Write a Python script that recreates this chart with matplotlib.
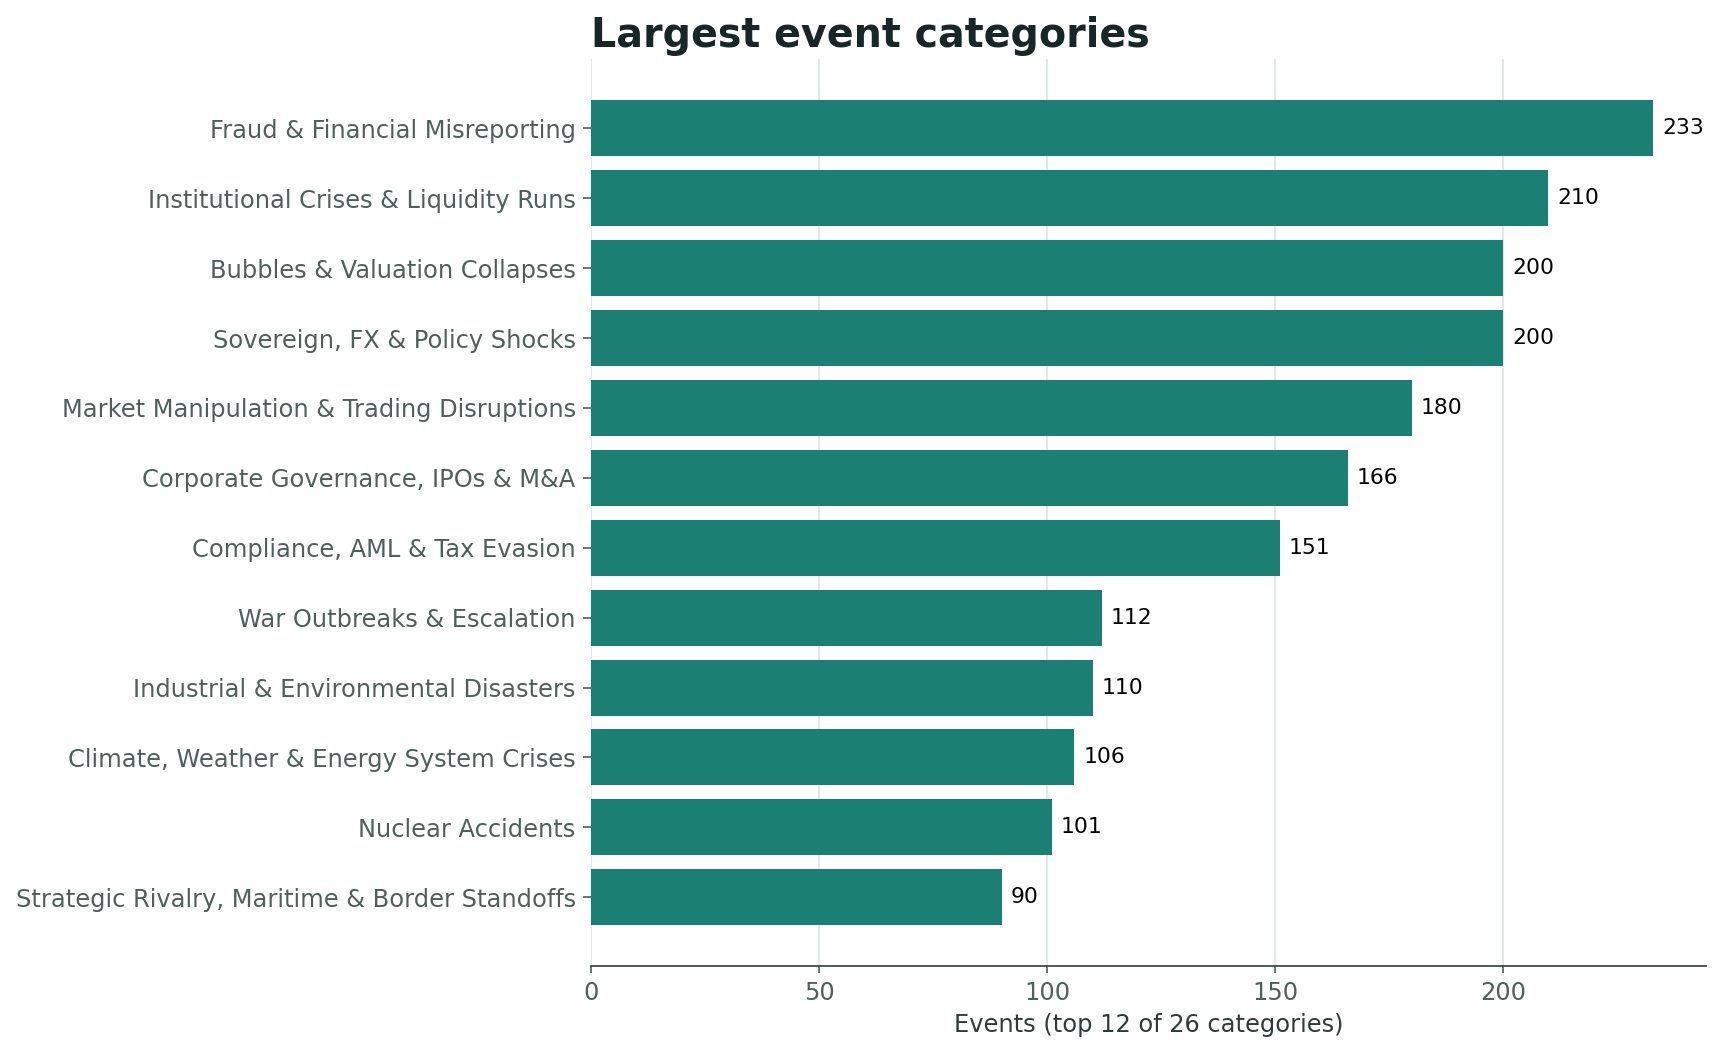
import numpy as np
import matplotlib
matplotlib.use("Agg")
import matplotlib.pyplot as plt

categories = [
    "Fraud & Financial Misreporting",
    "Institutional Crises & Liquidity Runs",
    "Bubbles & Valuation Collapses",
    "Sovereign, FX & Policy Shocks",
    "Market Manipulation & Trading Disruptions",
    "Corporate Governance, IPOs & M&A",
    "Compliance, AML & Tax Evasion",
    "War Outbreaks & Escalation",
    "Industrial & Environmental Disasters",
    "Climate, Weather & Energy System Crises",
    "Nuclear Accidents",
    "Strategic Rivalry, Maritime & Border Standoffs",
]
counts = [233, 210, 200, 200, 180, 166, 151, 112, 110, 106, 101, 90]

bar_color = "#1b7f73"
text_dark = "#172626"
tick_gray = "#4f5f5c"

fig, ax = plt.subplots(figsize=(11.48, 7.02), dpi=150)
y = np.arange(len(categories))
bars = ax.barh(y, counts, color=bar_color, height=0.8, zorder=2)
ax.set_yticks(y)
ax.set_yticklabels(categories)
ax.invert_yaxis()

for b, v in zip(bars, counts):
    ax.text(b.get_width() + 2, b.get_y() + b.get_height() / 2, str(v),
            va="center", ha="left", fontsize=10.5, color="black")

ax.set_title("Largest event categories", loc="left", fontsize=19,
             fontweight="bold", color=text_dark)
ax.set_xlabel("Events (top 12 of 26 categories)", fontsize=11.6, color="#2f3b3a")
ax.tick_params(axis="both", labelsize=11.6, colors=tick_gray)
ax.tick_params(axis="y", length=4)
ax.grid(axis="x", color="#e3e8e8", linewidth=1, zorder=0)
ax.set_axisbelow(True)
for s in ["top", "right", "left"]:
    ax.spines[s].set_visible(False)
ax.spines["bottom"].set_color("#333d3b")

fig.tight_layout(pad=0.75)
fig.savefig("out.png", dpi=150)
